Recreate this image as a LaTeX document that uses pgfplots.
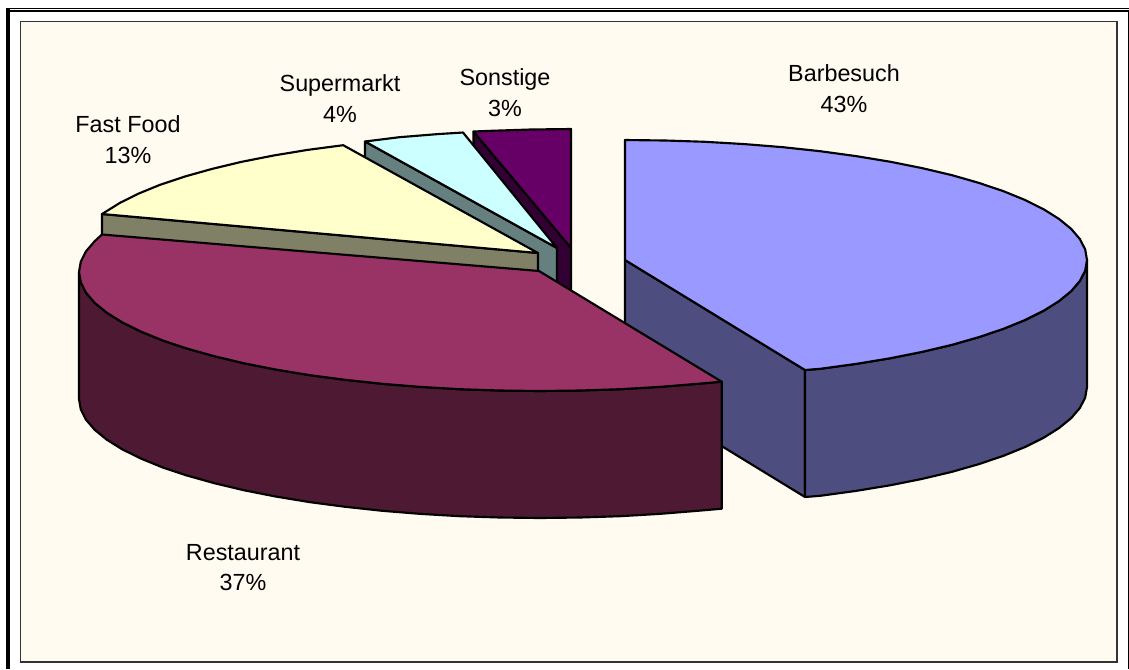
\documentclass[border=0pt]{standalone}
\usepackage{fontspec}
\setmainfont{Liberation Sans}
\usepackage{pgfplots}
\pgfplotsset{compat=1.18}
\definecolor{bgc}{HTML}{FFFBF0}
\definecolor{bartop}{HTML}{9999FF}
\definecolor{barside}{HTML}{4D4D80}
\definecolor{restop}{HTML}{993366}
\definecolor{resside}{HTML}{4D1933}
\definecolor{fftop}{HTML}{FFFFCC}
\definecolor{ffside}{HTML}{808066}
\definecolor{sutop}{HTML}{CCFFFF}
\definecolor{suside}{HTML}{668080}
\definecolor{sotop}{HTML}{660066}
\definecolor{soside}{HTML}{330033}
\tikzset{lbl/.style={font=\fontsize{17.5}{23}\selectfont, align=center, text=black, inner sep=0pt},
 pie/.style={line join=round, line width=1.6pt, draw=black, mark=none}}
\begin{document}
\begin{tikzpicture}
\begin{axis}[
  scale only axis, width=846.75pt, height=501.75pt,
  xmin=0, xmax=1129, ymin=0, ymax=669, y dir=reverse,
  hide axis, clip=false,
]
% page
\addplot[fill=white, draw=none, mark=none] coordinates {(0,0)(1129,0)(1129,669)(0,669)} -- cycle;
% outer frame
\addplot[fill=black, draw=none, mark=none] coordinates {(6,7.5)(1129,7.5)(1129,9.2)(6,9.2)} -- cycle;
\addplot[fill=black, draw=none, mark=none] coordinates {(6,10.2)(1129,10.2)(1129,11.7)(6,11.7)} -- cycle;
\addplot[fill=black, draw=none, mark=none] coordinates {(6,7.5)(10,7.5)(10,669)(6,669)} -- cycle;
\addplot[fill=black, draw=none, mark=none] coordinates {(1128,10.2)(1129,10.2)(1129,669)(1128,669)} -- cycle;
% plot area
\addplot[fill=bgc, draw=black!80, line width=1.2pt, mark=none] coordinates {(20.5,21.5)(1117,21.5)(1117,662)(20.5,662)} -- cycle;
% Barbesuch
\addplot[pie, fill=barside] coordinates {(625,260)(805,370)(805,497)(625,387)} -- cycle;
\addplot[pie, fill=barside] coordinates {(805,370)(820.2,368.8)(856,363.9)(890,358.3)(922,351.9)(951.7,344.9)(978.9,337.1)(1003.5,328.8)(1025.1,320)(1043.7,310.7)(1059.1,301)(1071.2,291.1)(1080,280.8)(1085.2,270.5)(1087,260)
 (1087,387)(1085.2,397.5)(1080,407.8)(1071.2,418.1)(1059.1,428)(1043.7,437.7)(1025.1,447)(1003.5,455.8)(978.9,464.1)(951.7,471.9)(922,478.9)(890,485.3)(856,490.9)(820.2,495.8)(805,497)} -- cycle;
\addplot[pie, fill=bartop] coordinates {(625,260)(625,140)(665.3,140.5)(705.2,141.8)(744.6,144.1)(783,147.2)(820.2,151.2)(856,156.1)(890,161.7)(922,168.1)(951.7,175.1)(978.9,182.9)(1003.5,191.2)(1025.1,200)(1043.7,209.3)(1059.1,219)(1071.2,228.9)(1080,239.2)(1085.2,249.5)(1087,260)(1085.2,270.5)(1080,280.8)(1071.2,291.1)(1059.1,301)(1043.7,310.7)(1025.1,320)(1003.5,328.8)(978.9,337.1)(951.7,344.9)(922,351.9)(890,358.3)(856,363.9)(820.2,368.8)(805,370)} -- cycle;
% Sonstige
\addplot[pie, fill=soside] coordinates {(473.5,131.5)(571,248)(571,375)(473.5,258.5)} -- cycle;
\addplot[pie, fill=sotop] coordinates {(571,248)(571,129)(530.8,129.5)(491,130.8)(473.5,131.5)} -- cycle;
% Supermarkt
\addplot[pie, fill=suside] coordinates {(365,141.5)(557,248)(557,375)(365,268.5)} -- cycle;
\addplot[pie, fill=sutop] coordinates {(557,248)(365,141.5)(399.3,137.2)(437.7,134.1)(463,132.5)} -- cycle;
% Fast Food
\addplot[pie, fill=ffside] coordinates {(102,214)(538,253)(538,380)(102,341)} -- cycle;
\addplot[pie, fill=fftop] coordinates {(538,253)(343.2,145.2)(307.5,149.9)(273.6,155.5)(241.7,161.8)(212,168.9)(184.9,176.5)(160.3,184.7)(138.8,193.5)(120.2,202.7)(104.8,212.3)(102,214)} -- cycle;
% Restaurant
\addplot[pie, fill=resside] coordinates {(721.7,381.7)(697.7,383.8)(659.3,386.9)(620,389.2)(580.2,390.5)(540,391)(499.8,390.5)(460,389.2)(420.7,386.9)(382.3,383.8)(345.2,379.8)(309.5,375.1)(275.6,369.5)(243.7,363.2)(214,356.1)(186.9,348.5)(162.3,340.3)(140.8,331.5)(122.2,322.3)(106.8,312.7)(94.7,302.8)(86,292.7)(80.8,282.4)(79,272)
 (79,399)(80.8,409.4)(86,419.7)(94.7,429.8)(106.8,439.7)(122.2,449.3)(140.8,458.5)(162.3,467.3)(186.9,475.5)(214,483.1)(243.7,490.2)(275.6,496.5)(309.5,502.1)(345.2,506.8)(382.3,510.8)(420.7,513.9)(460,516.2)(499.8,517.5)(540,518)(580.2,517.5)(620,516.2)(659.3,513.9)(697.7,510.8)(721.7,508.7)} -- cycle;
\addplot[pie, fill=restop] coordinates {(539,271)(721.7,381.7)(697.7,383.8)(659.3,386.9)(620,389.2)(580.2,390.5)(540,391)(499.8,390.5)(460,389.2)(420.7,386.9)(382.3,383.8)(345.2,379.8)(309.5,375.1)(275.6,369.5)(243.7,363.2)(214,356.1)(186.9,348.5)(162.3,340.3)(140.8,331.5)(122.2,322.3)(106.8,312.7)(94.7,302.8)(86,292.7)(80.8,282.4)(79,272)(80.8,261.6)(86,251.3)(94.7,241.2)(102,234.5)} -- cycle;
% labels
\node[lbl] at (axis cs:844,88.5) {Barbesuch\\43\%};
\node[lbl] at (axis cs:505,92.5) {Sonstige\\3\%};
\node[lbl] at (axis cs:340,98.5) {Supermarkt\\4\%};
\node[lbl] at (axis cs:128,139.5) {Fast Food\\13\%};
\node[lbl] at (axis cs:243,567.5) {Restaurant\\37\%};
\end{axis}
\end{tikzpicture}
\end{document}
